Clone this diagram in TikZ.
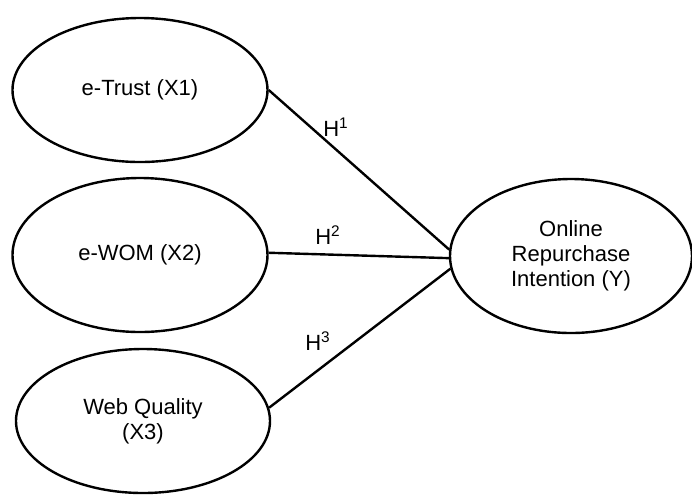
\documentclass[tikz,border=0pt]{standalone}
\usepackage{fontspec}
\setmainfont{Liberation Sans}
\usetikzlibrary{shapes.geometric}
\begin{document}
\begin{tikzpicture}[x=0.5pt,y=-0.5pt,
  var/.style={ellipse,draw,line width=1.2pt,inner sep=0pt,align=center,
    font=\fontsize{11}{12.5}\selectfont},
  link/.style={line width=1.2pt},
  hlab/.style={font=\fontsize{11}{12.5}\selectfont,inner sep=0pt}]
\useasboundingbox (0,0) rectangle (692,495);
\node[var,minimum width=127.5pt,minimum height=72pt] (t) at (140,90) {e-Trust (X1)};
\node[var,minimum width=127.5pt,minimum height=77pt] (w) at (140,255) {e-WOM (X2)};
\node[var,minimum width=127pt,minimum height=72pt] (q) at (143,421) {Web Quality\\(X3)};
\node[var,minimum width=121pt,minimum height=77pt] (y) at (571,256) {Online\\Repurchase\\Intention (Y)};
\draw[link] (t.east) -- (y.177);
\draw[link] (w.1) -- (y.181);
\draw[link] (q.6) -- (y.186);
\node[hlab] (h1) at (336,127) {H\textsuperscript{1}};
\node[hlab] (h2) at (328,235) {H\textsuperscript{2}};
\node[hlab] (h3) at (318,341) {H\textsuperscript{3}};
\end{tikzpicture}
\end{document}
